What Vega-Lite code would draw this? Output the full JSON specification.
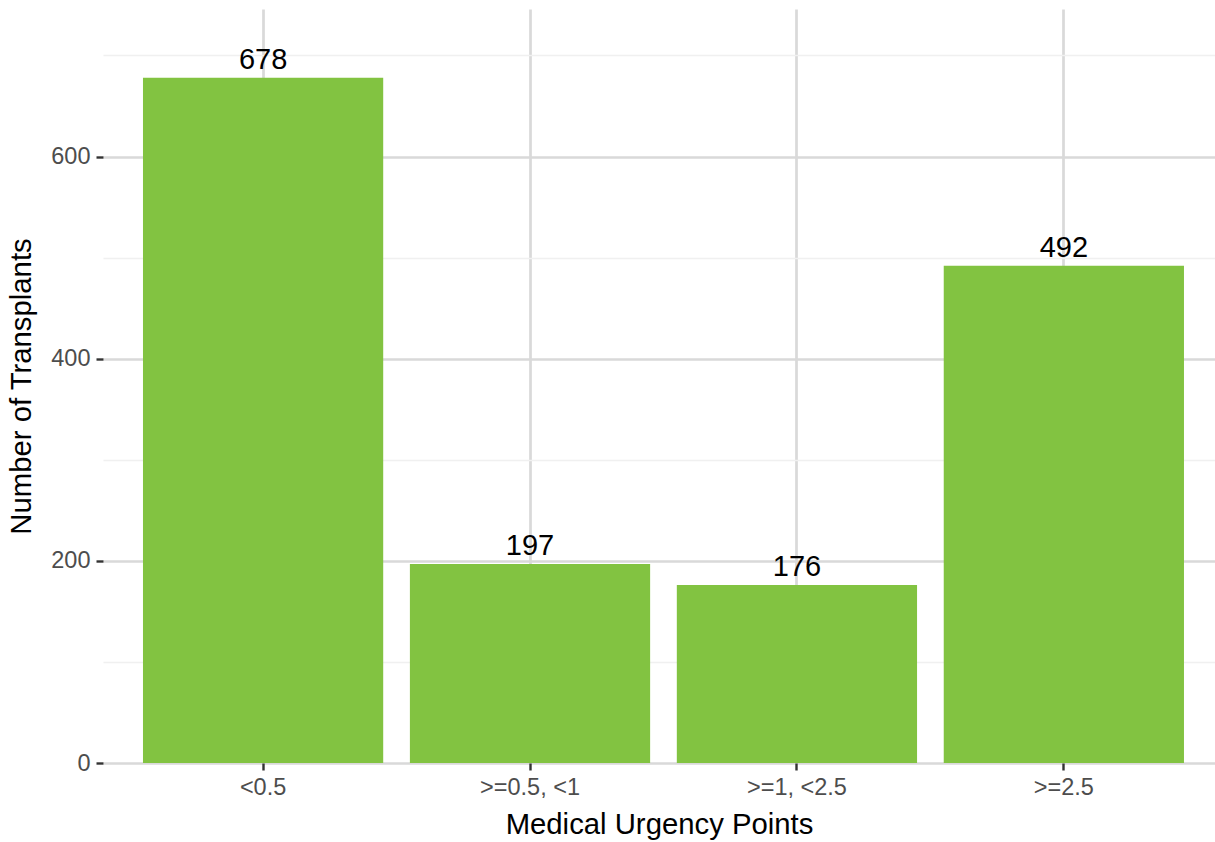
{
  "$schema": "https://vega.github.io/schema/vega-lite/v6.json",
  "autosize": "none",
  "padding": {"left": 103, "top": 9, "right": 0, "bottom": 79},
  "width": 1112,
  "height": 754,
  "background": "white",
  "config": {
    "view": {"stroke": null},
    "font": "Liberation Sans"
  },
  "data": {
    "values": [
      {"points": "<0.5", "count": 678},
      {"points": ">=0.5, <1", "count": 197},
      {"points": ">=1, <2.5", "count": 176},
      {"points": ">=2.5", "count": 492}
    ]
  },
  "encoding": {
    "x": {
      "field": "points",
      "type": "nominal",
      "sort": null,
      "scale": {"paddingInner": 0.1, "paddingOuter": 0.133, "align": 0.563},
      "axis": {
        "title": "Medical Urgency Points",
        "titleFont": "Liberation Sans",
        "titleFontSize": 29.3,
        "titleFontWeight": "normal",
        "titleColor": "black",
        "titlePadding": 12,
        "labelAngle": 0,
        "labelFont": "Liberation Sans",
        "labelFontSize": 23.5,
        "labelColor": "#4D4D4D",
        "labelPadding": 5,
        "domain": false,
        "ticks": true,
        "tickSize": 7,
        "tickWidth": 2.4,
        "tickColor": "#333333",
        "bandPosition": 0.5,
        "grid": true,
        "gridColor": "#D9D9D9",
        "gridWidth": 2.7
      }
    },
    "y": {
      "field": "count",
      "type": "quantitative",
      "scale": {"domain": [0, 746], "nice": false, "zero": true},
      "axis": {
        "title": "Number of Transplants",
        "titleFont": "Liberation Sans",
        "titleFontSize": 29.3,
        "titleFontWeight": "normal",
        "titleColor": "black",
        "titlePadding": 14,
        "values": [0, 100, 200, 300, 400, 500, 600, 700],
        "labelExpr": "datum.value % 200 === 0 ? datum.label : ''",
        "labelFont": "Liberation Sans",
        "labelFontSize": 23.5,
        "labelColor": "#4D4D4D",
        "labelPadding": 6,
        "domain": false,
        "tickSize": 7,
        "tickWidth": 2.4,
        "tickColor": "#333333",
        "tickOpacity": {"condition": {"test": "datum.value % 200 === 0", "value": 1}, "value": 0},
        "grid": true,
        "gridColor": {"condition": {"test": "datum.value % 200 === 0", "value": "#D9D9D9"}, "value": "#F0F0F0"},
        "gridWidth": {"condition": {"test": "datum.value % 200 === 0", "value": 2.7}, "value": 1.4}
      }
    }
  },
  "layer": [
    {"mark": {"type": "bar", "color": "#82C341"}},
    {
      "mark": {"type": "text", "baseline": "alphabetic", "dy": -9, "fontSize": 29, "font": "Liberation Sans", "color": "black"},
      "encoding": {"text": {"field": "count", "type": "quantitative"}}
    }
  ]
}
